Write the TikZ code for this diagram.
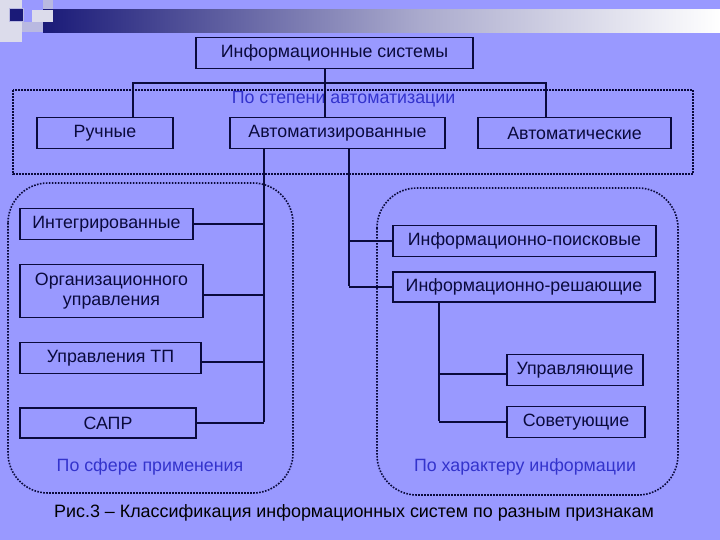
\documentclass[tikz,border=0pt]{standalone}
\usepackage{fontspec}
\setmainfont{Liberation Sans}
\definecolor{bgc}{RGB}{153,153,255}
\definecolor{navyd}{RGB}{10,10,60}
\definecolor{barnavy}{RGB}{26,26,120}
\definecolor{lblue}{RGB}{51,51,204}
\definecolor{sqlight}{RGB}{220,220,235}
\definecolor{sqmid}{RGB}{185,185,225}
\definecolor{barmid}{RGB}{170,170,205}
\begin{document}
\begin{tikzpicture}[x=1pt,y=-1pt,
  boxn/.style={draw=navyd,line width=1.8pt,inner sep=0pt,align=center,text=navyd,font=\fontsize{17.8}{20}\selectfont},
  conn/.style={draw=navyd,line width=2.1pt},
  grp/.style={draw=navyd,line width=1.6pt,dash pattern=on 1.6pt off 1.4pt},
  lbl/.style={text=lblue,font=\fontsize{17.8}{20}\selectfont,inner sep=0pt}]
\useasboundingbox (0,0) rectangle (720,540);
\fill[bgc] (0,0) rectangle (720,540);
% top decoration
\fill[sqlight] (0,0) rectangle (22,42);
\fill[sqmid] (22,22) rectangle (43,32);
\fill[sqlight] (32,10) rectangle (53,22);
\fill[sqmid] (43,0) rectangle (53,10);
\shade[left color=barnavy,right color=barmid] (43,10) rectangle (420,33);
\shade[left color=barmid,right color=white] (420,10) rectangle (720,33);
\fill[sqlight] (43,10) rectangle (53,22);
\fill[barnavy,draw=sqmid,line width=1pt] (9,9) rectangle (23,22);
% group frames
\draw[grp] (13,90) rectangle (693,174);
\draw[grp,rounded corners=40pt] (8,183) rectangle (293,493);
\draw[grp,rounded corners=40pt] (377,188) rectangle (678,495);
% labels
\node[lbl] (l1) at (343.5,99) {По степени автоматизации};
\node[lbl] (l2) at (150,467) {По сфере применения};
\node[lbl] (l3) at (525,467) {По характеру информации};
\node[inner sep=0pt,text=black,font=\fontsize{17.9}{20}\selectfont] (cap) at (354,513) {Рис.3 – Классификация информационных систем по разным признакам};
% boxes
\node[boxn,minimum width=277pt,minimum height=31pt] (top) at (334.5,53) {Информационные системы};
\node[boxn,minimum width=136pt,minimum height=31pt] (ruch) at (105,133) {Ручные};
\node[boxn,minimum width=215pt,minimum height=31pt] (avtz) at (337.5,133) {Автоматизированные};
\node[boxn,minimum width=193pt,minimum height=31pt] (avt) at (574.5,133) {Автоматические};
\node[boxn,minimum width=173pt,minimum height=31pt] (integ) at (106.5,224) {Интегрированные};
\node[boxn,minimum width=183pt,minimum height=53pt] (org) at (111.5,291) {Организационного\\управления};
\node[boxn,minimum width=181pt,minimum height=31pt] (utp) at (110.5,358) {Управления ТП};
\node[boxn,minimum width=176pt,minimum height=30pt] (sapr) at (108,423) {САПР};
\node[boxn,minimum width=263pt,minimum height=31pt] (ipoisk) at (524.5,241) {Информационно-поисковые};
\node[boxn,minimum width=262pt,minimum height=30pt] (iresh) at (524,287) {Информационно-решающие};
\node[boxn,minimum width=136pt,minimum height=31pt] (upr) at (575,370) {Управляющие};
\node[boxn,minimum width=138pt,minimum height=31pt] (sov) at (576,422) {Советующие};
% bus coordinates
\coordinate (xa) at (325,83);
\coordinate (xr) at (133,83);
\coordinate (xt) at (546,83);
\coordinate (b1) at (264,0);
\coordinate (b2) at (349,0);
\coordinate (b3) at (439,0);
% connectors
\draw[conn] (top.south -| xa) -- (avtz.north -| xa);
\draw[conn] (ruch.north -| xr) -- (xr) -- (xt) -- (avt.north -| xt);
\draw[conn] (avtz.south -| b1) -- ([yshift=1pt]sapr.east -| b1);
\draw[conn] (integ.east) -- (integ.east -| b1);
\draw[conn] ([yshift=-4pt]org.east) -- ([yshift=-4pt]org.east -| b1);
\draw[conn] ([yshift=-4pt]utp.east) -- ([yshift=-4pt]utp.east -| b1);
\draw[conn] (sapr.east) -- (sapr.east -| b1);
\draw[conn] (avtz.south -| b2) -- ([yshift=1pt]iresh.west -| b2);
\draw[conn] (ipoisk.west -| b2) -- (ipoisk.west);
\draw[conn] (iresh.west -| b2) -- (iresh.west);
\draw[conn] (iresh.south -| b3) -- ([yshift=1pt]sov.west -| b3);
\draw[conn] ([yshift=-4pt]upr.west -| b3) -- ([yshift=-4pt]upr.west);
\draw[conn] (sov.west -| b3) -- (sov.west);
\end{tikzpicture}
\end{document}
